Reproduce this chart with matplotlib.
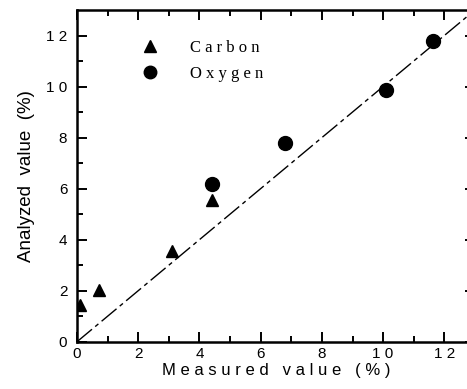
import matplotlib
matplotlib.use('Agg')
import matplotlib.pyplot as plt
from matplotlib.lines import Line2D

# measured vs analyzed content (%)
carbon_measured = [0.1, 0.72, 3.1, 4.42]
carbon_analyzed = [1.45, 2.02, 3.55, 5.55]
oxygen_measured = [4.4, 6.8, 10.1, 11.62]
oxygen_analyzed = [6.2, 7.78, 9.87, 11.78]
ref_line = [0, 13]

SANS = 'Liberation Sans'
SERIF = 'Liberation Serif'

fig = plt.figure(figsize=(4.67, 3.89), dpi=100)
ax = fig.add_axes([0.165, 0.1216, 0.852, 0.8527])

ax.plot(ref_line, ref_line, color='black', lw=1.0, linestyle=(0, (14, 3, 3, 3)))
ax.plot(carbon_measured, carbon_analyzed, '^', color='black', ms=9, ls='none')
ax.plot(oxygen_measured, oxygen_analyzed, 'o', color='black', ms=10, ls='none')

ax.set_xlim(0, 13)
ax.set_ylim(0, 13)
ax.set_xticks(range(0, 13, 2))
ax.set_yticks(range(0, 13, 2))
ax.set_xticks(range(1, 13, 2), minor=True)
ax.set_yticks(range(1, 13, 2), minor=True)
ax.set_xticklabels([' '.join(str(v)) for v in range(0, 13, 2)], family=SANS, fontsize=11)
ax.set_yticklabels([' '.join(str(v)) for v in range(0, 13, 2)], family=SANS, fontsize=11)
ax.tick_params(which='both', direction='in', top=True, right=True, width=1.4)
ax.tick_params(which='major', length=7)
ax.tick_params(which='minor', length=4)
ax.tick_params(axis='y', which='major', pad=7)
ax.tick_params(axis='x', which='major', pad=4)
for side in ['left', 'bottom', 'top', 'right']:
    ax.spines[side].set_linewidth(1.8)

ax.set_xlabel('M e a s u r e d   v a l u e   ( % )', family=SANS, fontsize=12, labelpad=1)
ax.set_ylabel('Analyzed  value  (%)', family=SANS, fontsize=13.5, labelpad=8)

handles = [Line2D([], [], marker='^', color='black', ls='none', ms=9),
           Line2D([], [], marker='o', color='black', ls='none', ms=9)]
ax.legend(handles, ['C a r b o n', 'O x y g e n'], loc='upper left',
          bbox_to_anchor=(0.103, 0.955), frameon=False, handletextpad=1.4,
          labelspacing=0.6, prop={'family': SERIF, 'size': 12})

fig.savefig('out.png', dpi=100)
